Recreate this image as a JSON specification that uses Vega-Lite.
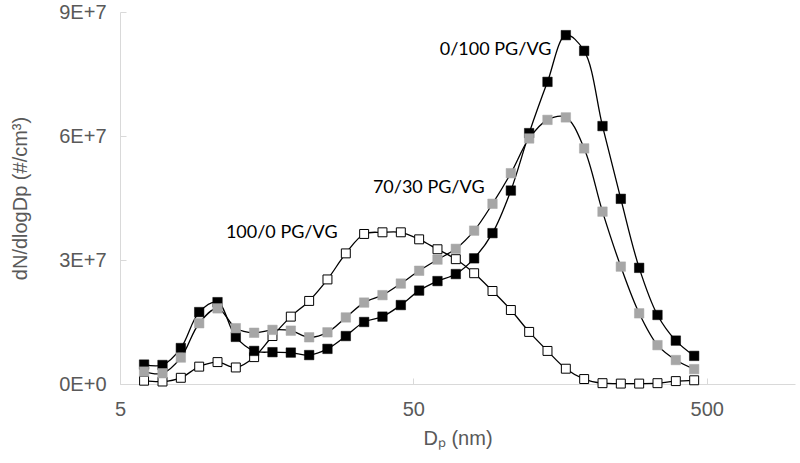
{
  "$schema": "https://vega.github.io/schema/vega-lite/v6.json",
  "width": 675,
  "height": 372,
  "autosize": "none",
  "padding": {"left": 120, "top": 12, "right": 5, "bottom": 79},
  "background": "white",
  "config": {"view": {"stroke": null}},
  "datasets": {
    "psd": [
      {"d": 6.04, "s": "0/100 PG/VG", "v": 4.7e6}, {"d": 6.98, "s": "0/100 PG/VG", "v": 4.6e6}, {"d": 8.06, "s": "0/100 PG/VG", "v": 8.7e6}, {"d": 9.31, "s": "0/100 PG/VG", "v": 1.74e7}, {"d": 10.75, "s": "0/100 PG/VG", "v": 1.98e7}, {"d": 12.41, "s": "0/100 PG/VG", "v": 1.14e7}, {"d": 14.33, "s": "0/100 PG/VG", "v": 8.0e6}, {"d": 16.55, "s": "0/100 PG/VG", "v": 7.7e6}, {"d": 19.11, "s": "0/100 PG/VG", "v": 7.6e6}, {"d": 22.07, "s": "0/100 PG/VG", "v": 7.0e6}, {"d": 25.48, "s": "0/100 PG/VG", "v": 8.5e6}, {"d": 29.43, "s": "0/100 PG/VG", "v": 1.16e7}, {"d": 33.98, "s": "0/100 PG/VG", "v": 1.5e7}, {"d": 39.24, "s": "0/100 PG/VG", "v": 1.63e7}, {"d": 45.32, "s": "0/100 PG/VG", "v": 1.91e7}, {"d": 52.33, "s": "0/100 PG/VG", "v": 2.26e7}, {"d": 60.43, "s": "0/100 PG/VG", "v": 2.49e7}, {"d": 69.78, "s": "0/100 PG/VG", "v": 2.66e7}, {"d": 80.58, "s": "0/100 PG/VG", "v": 3.04e7}, {"d": 93.06, "s": "0/100 PG/VG", "v": 3.65e7}, {"d": 107.5, "s": "0/100 PG/VG", "v": 4.68e7}, {"d": 124.1, "s": "0/100 PG/VG", "v": 6.07e7}, {"d": 143.3, "s": "0/100 PG/VG", "v": 7.31e7}, {"d": 165.5, "s": "0/100 PG/VG", "v": 8.44e7}, {"d": 191.1, "s": "0/100 PG/VG", "v": 8.06e7}, {"d": 220.7, "s": "0/100 PG/VG", "v": 6.24e7}, {"d": 254.8, "s": "0/100 PG/VG", "v": 4.48e7}, {"d": 294.3, "s": "0/100 PG/VG", "v": 2.81e7}, {"d": 339.8, "s": "0/100 PG/VG", "v": 1.67e7}, {"d": 392.4, "s": "0/100 PG/VG", "v": 1.05e7}, {"d": 453.2, "s": "0/100 PG/VG", "v": 6.8e6},
      {"d": 6.04, "s": "70/30 PG/VG", "v": 3.0e6}, {"d": 6.98, "s": "70/30 PG/VG", "v": 2.6e6}, {"d": 8.06, "s": "70/30 PG/VG", "v": 6.4e6}, {"d": 9.31, "s": "70/30 PG/VG", "v": 1.47e7}, {"d": 10.75, "s": "70/30 PG/VG", "v": 1.83e7}, {"d": 12.41, "s": "70/30 PG/VG", "v": 1.35e7}, {"d": 14.33, "s": "70/30 PG/VG", "v": 1.24e7}, {"d": 16.55, "s": "70/30 PG/VG", "v": 1.31e7}, {"d": 19.11, "s": "70/30 PG/VG", "v": 1.29e7}, {"d": 22.07, "s": "70/30 PG/VG", "v": 1.13e7}, {"d": 25.48, "s": "70/30 PG/VG", "v": 1.25e7}, {"d": 29.43, "s": "70/30 PG/VG", "v": 1.61e7}, {"d": 33.98, "s": "70/30 PG/VG", "v": 1.97e7}, {"d": 39.24, "s": "70/30 PG/VG", "v": 2.15e7}, {"d": 45.32, "s": "70/30 PG/VG", "v": 2.43e7}, {"d": 52.33, "s": "70/30 PG/VG", "v": 2.74e7}, {"d": 60.43, "s": "70/30 PG/VG", "v": 3.01e7}, {"d": 69.78, "s": "70/30 PG/VG", "v": 3.27e7}, {"d": 80.58, "s": "70/30 PG/VG", "v": 3.71e7}, {"d": 93.06, "s": "70/30 PG/VG", "v": 4.36e7}, {"d": 107.5, "s": "70/30 PG/VG", "v": 5.1e7}, {"d": 124.1, "s": "70/30 PG/VG", "v": 5.94e7}, {"d": 143.3, "s": "70/30 PG/VG", "v": 6.39e7}, {"d": 165.5, "s": "70/30 PG/VG", "v": 6.45e7}, {"d": 191.1, "s": "70/30 PG/VG", "v": 5.7e7}, {"d": 220.7, "s": "70/30 PG/VG", "v": 4.17e7}, {"d": 254.8, "s": "70/30 PG/VG", "v": 2.84e7}, {"d": 294.3, "s": "70/30 PG/VG", "v": 1.71e7}, {"d": 339.8, "s": "70/30 PG/VG", "v": 9.4e6}, {"d": 392.4, "s": "70/30 PG/VG", "v": 5.8e6}, {"d": 453.2, "s": "70/30 PG/VG", "v": 3.6e6},
      {"d": 6.04, "s": "100/0 PG/VG", "v": 8e5}, {"d": 6.98, "s": "100/0 PG/VG", "v": 6e5}, {"d": 8.06, "s": "100/0 PG/VG", "v": 1.5e6}, {"d": 9.31, "s": "100/0 PG/VG", "v": 4.2e6}, {"d": 10.75, "s": "100/0 PG/VG", "v": 5.3e6}, {"d": 12.41, "s": "100/0 PG/VG", "v": 4.0e6}, {"d": 14.33, "s": "100/0 PG/VG", "v": 6.5e6}, {"d": 16.55, "s": "100/0 PG/VG", "v": 1.16e7}, {"d": 19.11, "s": "100/0 PG/VG", "v": 1.63e7}, {"d": 22.07, "s": "100/0 PG/VG", "v": 2.01e7}, {"d": 25.48, "s": "100/0 PG/VG", "v": 2.53e7}, {"d": 29.43, "s": "100/0 PG/VG", "v": 3.16e7}, {"d": 33.98, "s": "100/0 PG/VG", "v": 3.63e7}, {"d": 39.24, "s": "100/0 PG/VG", "v": 3.67e7}, {"d": 45.32, "s": "100/0 PG/VG", "v": 3.67e7}, {"d": 52.33, "s": "100/0 PG/VG", "v": 3.5e7}, {"d": 60.43, "s": "100/0 PG/VG", "v": 3.26e7}, {"d": 69.78, "s": "100/0 PG/VG", "v": 3.02e7}, {"d": 80.58, "s": "100/0 PG/VG", "v": 2.68e7}, {"d": 93.06, "s": "100/0 PG/VG", "v": 2.25e7}, {"d": 107.5, "s": "100/0 PG/VG", "v": 1.79e7}, {"d": 124.1, "s": "100/0 PG/VG", "v": 1.26e7}, {"d": 143.3, "s": "100/0 PG/VG", "v": 8.0e6}, {"d": 165.5, "s": "100/0 PG/VG", "v": 3.7e6}, {"d": 191.1, "s": "100/0 PG/VG", "v": 1.2e6}, {"d": 220.7, "s": "100/0 PG/VG", "v": 2e5}, {"d": 254.8, "s": "100/0 PG/VG", "v": 1e5}, {"d": 294.3, "s": "100/0 PG/VG", "v": 1e5}, {"d": 339.8, "s": "100/0 PG/VG", "v": 2e5}, {"d": 392.4, "s": "100/0 PG/VG", "v": 7e5}, {"d": 453.2, "s": "100/0 PG/VG", "v": 9e5}
    ],
    "labels": [
      {"d": 11.48, "v": 3.65e7, "t": "100/0 PG/VG"},
      {"d": 36.4, "v": 4.74e7, "t": "70/30 PG/VG"},
      {"d": 61.5, "v": 8.08e7, "t": "0/100 PG/VG"}
    ]
  },
  "encoding": {
    "x": {
      "field": "d", "type": "quantitative",
      "scale": {"type": "log", "domain": [5, 1000], "nice": false},
      "axis": {
        "values": [5, 50, 500], "format": "d", "grid": false,
        "title": "Dₚ (nm)", "titleFont": "Liberation Sans", "titleFontSize": 20, "titleFontWeight": "normal", "titleColor": "#595959", "titlePadding": 9,
        "labelFont": "Liberation Sans", "labelFontSize": 20, "labelColor": "#595959", "labelPadding": 21, "labelFlush": false,
        "domainColor": "#d9d9d9", "tickColor": "#d9d9d9", "tickSize": -6
      }
    },
    "y": {
      "field": "v", "type": "quantitative",
      "scale": {"domain": [0, 90000000], "nice": false},
      "axis": {
        "values": [0, 30000000, 60000000, 90000000], "grid": false,
        "labelExpr": "datum.value == 0 ? '0E+0' : format(datum.value / 10000000, 'd') + 'E+7'",
        "title": "dN/dlogDp (#/cm³)", "titleFont": "Liberation Sans", "titleFontSize": 20, "titleFontWeight": "normal", "titleColor": "#595959", "titlePadding": 28,
        "labelFont": "Liberation Sans", "labelFontSize": 20, "labelColor": "#595959", "labelPadding": 20,
        "domainColor": "#d9d9d9", "tickColor": "#d9d9d9", "tickSize": -6
      }
    }
  },
  "layer": [
    {
      "data": {"name": "psd"},
      "mark": {"type": "line", "interpolate": "catmull-rom", "color": "black", "strokeWidth": 1.3},
      "encoding": {"detail": {"field": "s", "type": "nominal"}}
    },
    {
      "data": {"name": "psd"},
      "transform": [{"filter": "datum.s == '100/0 PG/VG'"}],
      "mark": {"type": "point", "shape": "square", "size": 80, "filled": true, "fill": "white", "stroke": "black", "strokeWidth": 1, "opacity": 1}
    },
    {
      "data": {"name": "psd"},
      "transform": [{"filter": "datum.s == '0/100 PG/VG'"}],
      "mark": {"type": "point", "shape": "square", "size": 90, "filled": true, "fill": "black", "stroke": "black", "strokeWidth": 0.5, "opacity": 1}
    },
    {
      "data": {"name": "psd"},
      "transform": [{"filter": "datum.s == '70/30 PG/VG'"}],
      "mark": {"type": "point", "shape": "square", "size": 90, "filled": true, "fill": "#a6a6a6", "stroke": "#a6a6a6", "strokeWidth": 0.5, "opacity": 1}
    },
    {
      "data": {"name": "labels"},
      "mark": {"type": "text", "align": "left", "baseline": "middle", "font": "Lato", "fontSize": 18, "color": "black"},
      "encoding": {"text": {"field": "t", "type": "nominal"}}
    }
  ]
}
